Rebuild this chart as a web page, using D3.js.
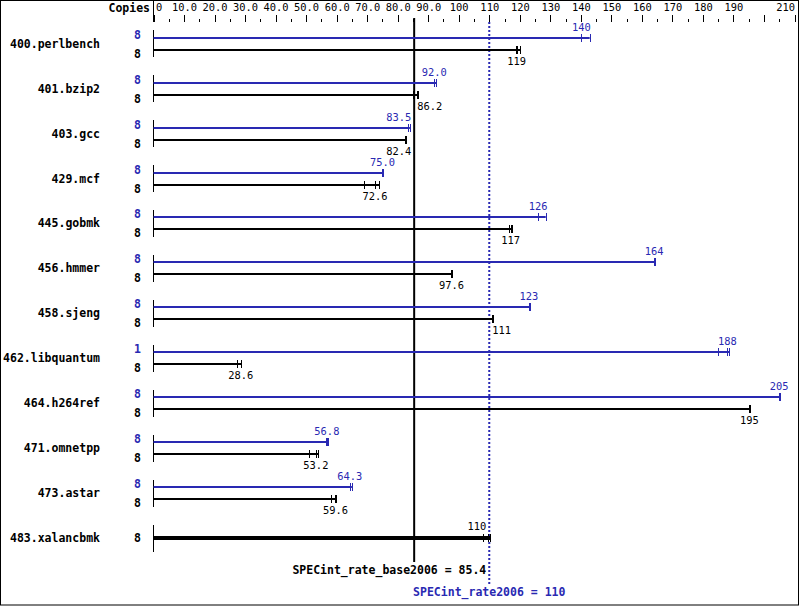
<!DOCTYPE html>
<html><head><meta charset="utf-8">
<script src="https://cdn.jsdelivr.net/npm/d3@7"></script>
<style>
html,body{margin:0;padding:0;background:#fff;}
svg{display:block;}
text{font-family:"DejaVu Sans Mono",monospace;}
</style></head>
<body>
<svg id="c" width="799" height="606"></svg>
<script>
const benchmarks = ["400.perlbench","401.bzip2","403.gcc","429.mcf","445.gobmk","456.hmmer","458.sjeng","462.libquantum","464.h264ref","471.omnetpp","473.astar","483.xalancbmk"];
const peakCopies = [8,8,8,8,8,8,8,1,8,8,8,null];
const baseCopies = [8,8,8,8,8,8,8,8,8,8,8,8];
const peakScores = [140,92.0,83.5,75.0,126,164,123,188,205,56.8,64.3,null];
const baseScores = [119,86.2,82.4,72.6,117,97.6,111,28.6,195,53.2,59.6,110];
const peakRuns = [[139.9,140.2,142.9],[91.9,92.0,92.6],[83.5,83.5,84.0],[74.9,75.0,75.1],[126,126,128.5],[164,164,164.3],[123,123,123.3],[185,188,188.6],[204.8,205,205.3],[56.6,56.8,57.3],[64.3,64.3,65.0],null];
const baseRuns = [[118.7,119,120.2],[84.9,86.2,86.7],[82.3,82.4,82.8],[69.1,72.6,73.9],[116.6,117,117.4],[97.5,97.6,97.7],[110.9,111,111.3],[27.4,28.6,28.7],[195,195.2,195.4],[50.8,53.2,54.0],[58.1,59.6,59.7],[107.9,109.5,110.4]];
const majorTicks = d3.range(0,211,10);
const minorTicks = d3.range(5,210,10);
const tickLabels = ["0","10.0","20.0","30.0","40.0","50.0","60.0","70.0","80.0","90.0","100","110","120","130","140","150","160","170","180","190","","210"];
const baseRef = 85.4, peakRef = 110;
const baseRefLabel = "SPECint_rate_base2006 = 85.4";
const peakRefLabel = "SPECint_rate2006 = 110";

const BLUE = "#2929b2", BLACK = "#000";
const svg = d3.select("#c");
const x = d3.scaleLinear().domain([0,210]).range([153.5,794.5]);
const y = d3.scalePoint().domain(benchmarks).range([43.75,538]);
const NUMFS = 10.4;
const CW = 0.602*NUMFS; // char width of mono

// border
svg.append("rect").attr("x",0.5).attr("y",0.5).attr("width",798).attr("height",604.5)
  .attr("fill","none").attr("stroke","#000");

// top axis
const axisY = 22;
const gMajor = svg.append("g").attr("transform",`translate(0,${axisY})`)
  .call(d3.axisTop(x).tickValues(majorTicks).tickSize(7).tickPadding(4.5)
    .tickFormat((d,i)=>tickLabels[i]));
gMajor.select(".domain").remove();
gMajor.selectAll("text").attr("font-family","DejaVu Sans Mono").attr("font-size",NUMFS+"px").attr("fill","#000")
  .attr("text-anchor",(d,i)=> i===0?"start":(i===majorTicks.length-1?"end":"middle"))
  .attr("dx",(d,i)=> i===0?"2":"0");
gMajor.selectAll("line").attr("stroke","#000").attr("shape-rendering","crispEdges");
const gMinor = svg.append("g").attr("transform",`translate(0,${axisY})`)
  .call(d3.axisTop(x).tickValues(minorTicks).tickSize(3).tickFormat(""));
gMinor.select(".domain").remove();
gMinor.selectAll("line").attr("stroke","#000").attr("shape-rendering","crispEdges");
svg.append("line").attr("x1",x(0)).attr("x2",x(0)).attr("y1",0).attr("y2",axisY)
  .attr("stroke","#000").attr("shape-rendering","crispEdges");
svg.append("text").attr("x",150).attr("y",12).attr("text-anchor","end")
  .attr("font-size","11.5px").attr("font-weight","bold").text("Copies");

// reference lines
svg.append("line").attr("x1",x(baseRef)).attr("x2",x(baseRef)).attr("y1",18).attr("y2",562)
  .attr("stroke","#000").attr("stroke-width",2);
svg.append("line").attr("x1",x(peakRef)).attr("x2",x(peakRef)).attr("y1",22).attr("y2",584)
  .attr("stroke",BLUE).attr("stroke-width",2).attr("stroke-dasharray","2,2");

function placeLabel(g, text, medianVal, yBase, color){
  const w = text.length*CW;
  const cx = x(medianVal);
  let anchor = "middle", px = cx;
  for (const r of [baseRef, peakRef]) {
    const rx = x(r);
    if (cx - w/2 < rx + 1 && cx + w/2 > rx - 1) {
      if (cx <= rx) { anchor = "end"; px = rx - 3; }
      else { anchor = "start"; px = rx + 3; }
    }
  }
  g.append("text").attr("x",px).attr("y",yBase).attr("text-anchor",anchor)
    .attr("font-size",NUMFS+"px").attr("fill",color).text(text);
}

function drawBar(g, runs, yy, color, width){
  const mx = d3.max(runs);
  g.append("line").attr("x1",x(0)).attr("x2",x(mx)).attr("y1",yy).attr("y2",yy)
    .attr("stroke",color).attr("stroke-width",width);
  runs.forEach(v=>{
    g.append("line").attr("x1",Math.round(x(v))+0.5).attr("x2",Math.round(x(v))+0.5)
      .attr("y1",yy-4).attr("y2",yy+4).attr("stroke",color).attr("stroke-width",1);
  });
}

const fmt = v => (v>=100? d3.format(".0f")(v) : d3.format(".1f")(v));

benchmarks.forEach((b,i)=>{
  const cy = y(b);
  const g = svg.append("g");
  g.append("text").attr("x",100).attr("y",cy+4).attr("text-anchor","end")
    .attr("font-size","11.5px").attr("font-weight","bold").text(b);
  g.append("line").attr("x1",x(0)).attr("x2",x(0)).attr("y1",cy-13.5).attr("y2",cy+13.5)
    .attr("stroke","#000").attr("shape-rendering","crispEdges");
  if (peakRuns[i]) {
    const py = Math.round(cy-6), by = Math.round(cy+6);
    g.append("text").attr("x",141).attr("y",py+1).attr("text-anchor","end")
      .attr("font-size","11.5px").attr("font-weight","bold").attr("fill",BLUE).text(peakCopies[i]);
    g.append("text").attr("x",141).attr("y",by+8).attr("text-anchor","end")
      .attr("font-size","11.5px").attr("font-weight","bold").attr("fill",BLACK).text(baseCopies[i]);
    drawBar(g, peakRuns[i], py, BLUE, 2);
    drawBar(g, baseRuns[i], by, BLACK, 2);
    placeLabel(g, fmt(peakScores[i]), d3.median(peakRuns[i]), py-7.5, BLUE);
    placeLabel(g, fmt(baseScores[i]), d3.median(baseRuns[i]), by+15, BLACK);
  } else {
    const yy = Math.round(cy);
    g.append("text").attr("x",141).attr("y",yy+4).attr("text-anchor","end")
      .attr("font-size","11.5px").attr("font-weight","bold").attr("fill",BLACK).text(baseCopies[i]);
    drawBar(g, baseRuns[i], yy, BLACK, 4);
    placeLabel(g, fmt(baseScores[i]), d3.median(baseRuns[i]), yy-8, BLACK);
  }
});

// bottom reference labels
(function(){
  const w = baseRefLabel.length*7;
  let px = x(baseRef), anchor="middle";
  if (px + w/2 > x(peakRef) - 3) { px = x(peakRef) - 3; anchor = "end"; }
  svg.append("text").attr("x",px).attr("y",574).attr("text-anchor",anchor)
    .attr("font-size","11.5px").attr("font-weight","bold").text(baseRefLabel);
  svg.append("text").attr("x",x(peakRef)).attr("y",595.5).attr("text-anchor","middle")
    .attr("font-size","11.5px").attr("font-weight","bold").attr("fill",BLUE).text(peakRefLabel);
})();
</script>
</body></html>
